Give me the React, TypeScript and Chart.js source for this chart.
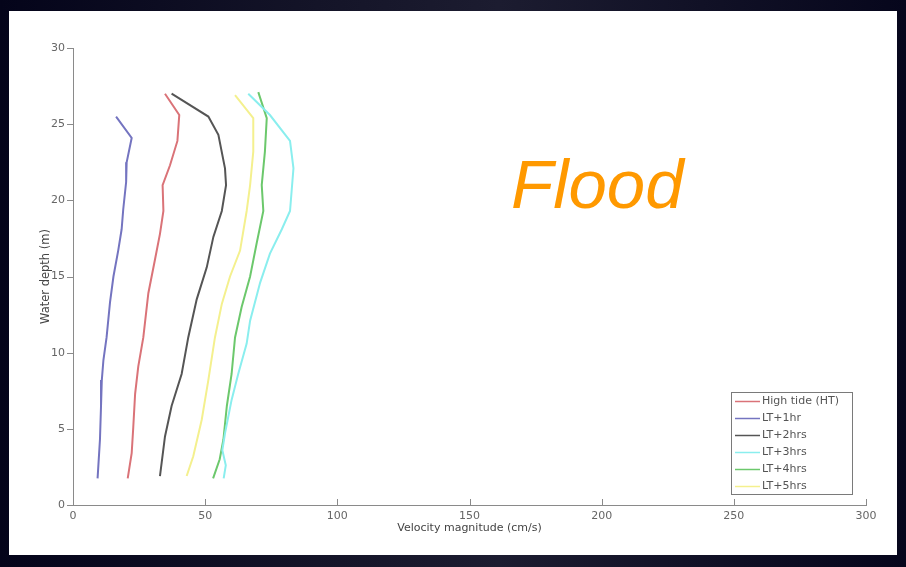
import React, { useEffect, useRef } from "react";
import { Chart, registerables } from "chart.js";

Chart.register(...registerables);

// ---- data (velocity in cm/s, depth in m) ----
const seriesLabels = ["High tide (HT)", "LT+1hr", "LT+2hrs", "LT+3hrs", "LT+4hrs", "LT+5hrs"];

const highTideVel = [34.8, 40.2, 39.5, 36.7, 33.9, 34.2, 32.9, 31.0, 28.5, 26.6, 24.7, 23.5, 22.8, 22.2, 20.7];
const highTideDepth = [27.0, 25.6, 23.9, 22.3, 21.0, 19.3, 17.8, 16.1, 13.9, 11.0, 9.1, 7.3, 5.1, 3.4, 1.75];

const lt1Vel = [16.3, 22.2, 20.3, 20.1, 19.0, 18.4, 17.1, 15.3, 14.0, 12.7, 11.5, 10.9, 10.6, 10.2, 9.3];
const lt1Depth = [25.5, 24.1, 22.5, 21.2, 19.4, 18.1, 16.7, 15.0, 13.3, 11.0, 9.5, 8.2, 6.5, 4.3, 1.75];

const lt2Vel = [37.3, 51.2, 55.0, 57.5, 57.9, 56.3, 53.1, 50.6, 46.8, 43.6, 41.1, 37.3, 34.8, 32.9];
const lt2Depth = [27.0, 25.5, 24.3, 22.1, 21.0, 19.3, 17.6, 15.6, 13.5, 11.0, 8.6, 6.5, 4.5, 1.9];

const lt3Vel = [66.3, 74.5, 82.1, 83.4, 82.1, 79.0, 74.5, 70.8, 67.0, 65.7, 62.5, 60.0, 57.5, 56.5, 57.8, 57.0];
const lt3Depth = [27.0, 25.6, 23.9, 22.1, 19.3, 18.1, 16.5, 14.6, 12.1, 10.6, 8.6, 6.9, 4.7, 3.6, 2.6, 1.75];

const lt4Vel = [70.1, 73.3, 72.6, 71.4, 72.0, 69.5, 67.0, 63.8, 61.3, 60.0, 58.2, 56.9, 55.5, 53.0];
const lt4Depth = [27.1, 25.4, 23.2, 21.0, 19.3, 17.2, 15.0, 13.0, 11.0, 8.6, 6.5, 4.3, 3.0, 1.75];

const lt5Vel = [61.3, 68.2, 68.2, 67.0, 65.7, 63.2, 59.4, 56.3, 53.7, 51.2, 48.7, 45.5, 43.0];
const lt5Depth = [26.9, 25.4, 23.2, 21.0, 19.3, 16.7, 15.0, 13.2, 11.0, 8.2, 5.6, 3.2, 1.9];

const xTickValues = [0, 50, 100, 150, 200, 250, 300];
const yTickValues = [0, 5, 10, 15, 20, 25, 30];

const seriesVel = [highTideVel, lt1Vel, lt2Vel, lt3Vel, lt4Vel, lt5Vel];
const seriesDepth = [highTideDepth, lt1Depth, lt2Depth, lt3Depth, lt4Depth, lt5Depth];
const seriesColors = ["#da7378", "#7474c0", "#555555", "#8aeeee", "#6cc86c", "#f4f08e"];

const FONT = "'DejaVu Sans', 'Liberation Sans', Arial, sans-serif";

const overlayPlugin = {
  id: "overlay",
  afterDraw(chart: any) {
    const { ctx, chartArea } = chart;
    const xs = chart.scales.x;
    const ys = chart.scales.y;
    ctx.save();
    ctx.strokeStyle = "#8a8a8a";
    ctx.lineWidth = 1;
    ctx.beginPath();
    for (const v of xTickValues) {
      const px = Math.round(xs.getPixelForValue(v)) + 0.5;
      ctx.moveTo(px, chartArea.bottom);
      ctx.lineTo(px, chartArea.bottom - 6);
    }
    for (const v of yTickValues) {
      const py = Math.round(ys.getPixelForValue(v)) + 0.5;
      ctx.moveTo(chartArea.left - 6, py);
      ctx.lineTo(chartArea.left, py);
    }
    ctx.stroke();

    // legend box
    const boxW = 121;
    const boxH = 102;
    const left = chartArea.right - 14 - boxW;
    const top = chartArea.bottom - 11 - boxH;
    ctx.fillStyle = "#ffffff";
    ctx.fillRect(left, top, boxW, boxH);
    ctx.strokeStyle = "#7a7a7a";
    ctx.strokeRect(Math.round(left) + 0.5, Math.round(top) + 0.5, boxW, boxH);
    ctx.font = `11px ${FONT}`;
    ctx.textBaseline = "middle";
    ctx.textAlign = "left";
    chart.data.datasets.forEach((ds: any, i: number) => {
      const ry = top + 9.5 + i * 17;
      ctx.strokeStyle = ds.borderColor;
      ctx.lineWidth = 1.5;
      ctx.beginPath();
      ctx.moveTo(left + 4, ry);
      ctx.lineTo(left + 29, ry);
      ctx.stroke();
      ctx.fillStyle = "#555";
      ctx.fillText(ds.label, left + 31, ry);
    });
    ctx.restore();
  },
};

export default function App() {
  const ref = useRef<HTMLCanvasElement>(null);

  useEffect(() => {
    document.body.style.margin = "0";
    const datasets = seriesLabels.map((label, i) => ({
      label,
      data: seriesVel[i].map((v, j) => ({ x: v, y: seriesDepth[i][j] })),
      borderColor: seriesColors[i],
      backgroundColor: seriesColors[i],
      borderWidth: 2,
      pointRadius: 0,
      showLine: true,
      fill: false,
      tension: 0,
    }));
    const chart = new Chart(ref.current as HTMLCanvasElement, {
      type: "scatter",
      data: { datasets },
      options: {
        responsive: false,
        animation: false,
        layout: { padding: { top: 48, right: 40, left: 0, bottom: 0 } },
        plugins: { legend: { display: false }, tooltip: { enabled: false } },
        scales: {
          x: {
            type: "linear",
            min: 0,
            max: 300,
            afterFit: (s: any) => {
              s.height = 62;
            },
            afterBuildTicks: (s: any) => {
              s.ticks = xTickValues.map((v) => ({ value: v }));
            },
            ticks: { padding: 5, color: "#666", font: { size: 11, family: FONT } },
            grid: { display: false, drawTicks: false },
            border: { display: true, color: "#8a8a8a", width: 1 },
            title: {
              display: true,
              text: "Velocity magnitude (cm/s)",
              color: "#444",
              font: { size: 11, family: FONT },
              padding: { bottom: 32, top: 0 },
            },
          },
          y: {
            type: "linear",
            min: 0,
            max: 30,
            afterFit: (s: any) => {
              s.width = 73;
            },
            afterBuildTicks: (s: any) => {
              s.ticks = yTickValues.map((v) => ({ value: v }));
            },
            ticks: { padding: 8, color: "#666", font: { size: 11, family: FONT } },
            grid: { display: false, drawTicks: false },
            border: { display: true, color: "#8a8a8a", width: 1 },
            title: {
              display: true,
              text: "Water depth (m)",
              color: "#444",
              font: { size: 11.5, family: FONT },
              padding: { top: 39, bottom: 0 },
            },
          },
        },
      },
      plugins: [overlayPlugin],
    });
    return () => chart.destroy();
  }, []);

  return (
    <div
      style={{
        position: "relative",
        width: 906,
        height: 567,
        overflow: "hidden",
        background: "linear-gradient(90deg, #04041a 0%, #141428 35%, #1c1c30 55%, #06061c 100%)",
      }}
    >
      <div
        style={{
          position: "absolute",
          left: 9,
          top: 11,
          width: 888,
          height: 544,
          background: "#ffffff",
        }}
      />
      <canvas
        ref={ref}
        width={906}
        height={567}
        style={{ position: "absolute", left: 0, top: 0, width: 906, height: 567 }}
      />
      <div
        style={{
          position: "absolute",
          left: 511,
          top: 150,
          fontFamily: "'Liberation Sans', Arial, sans-serif",
          fontStyle: "italic",
          fontSize: 69,
          lineHeight: 1,
          color: "#ff9900",
          whiteSpace: "nowrap",
        }}
      >
        Flood
      </div>
    </div>
  );
}
